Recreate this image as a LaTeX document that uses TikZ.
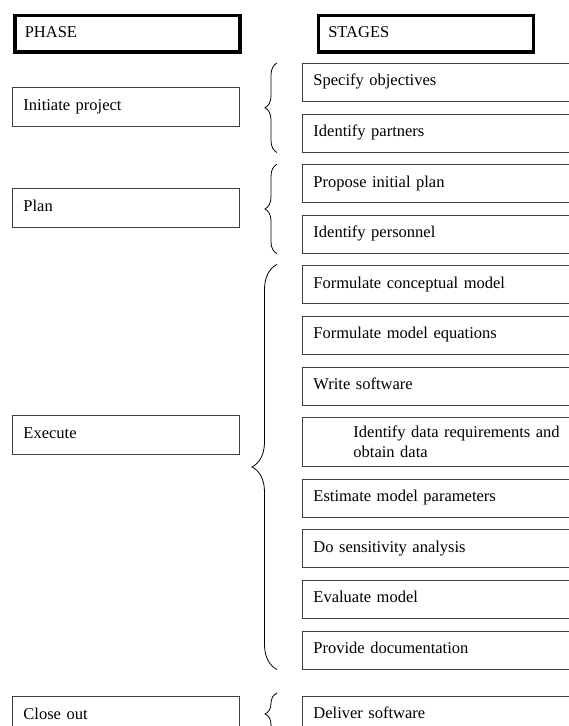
\documentclass[tikz,border=0pt]{standalone}
\usepackage{fontspec}
\setmainfont{Liberation Serif}
\usetikzlibrary{positioning,decorations.pathreplacing}
\tikzset{%
  % Specifications for style of nodes:
  base/.style = {
    rectangle,
    draw=black!75,
    line width=0.9pt,
    inner xsep=11pt,
    inner ysep=0pt,
    align=left,
    font=\fontsize{16.5}{20}\selectfont
  },
  header/.style = {base, draw=black, line width=3.5pt, inner xsep=10pt,
                   minimum height=36.5pt, text height=11pt, text depth=4pt},
  phase/.style = {base, text width=205pt, minimum height=39pt,
                  text height=11pt, text depth=4pt},
  stagebase/.style = {base, text width=268pt, minimum height=38pt},
  stage/.style = {stagebase, text height=11pt, text depth=4pt},
  curly/.style = {decorate, decoration={brace, amplitude=#1},
                  line width=0.8pt},
}

\begin{document}
\begin{tikzpicture}[
  x=1pt, y=-1pt,
  node distance=11.7pt,
  ]
  \useasboundingbox (0,0) rectangle (568,726);
  % headers
  \node (phase)  [header, text width=205pt, anchor=north west] at (13,13.5) {PHASE};
  \node (stages) [header, text width=195pt, anchor=north west] at (316.5,13.5) {STAGES};
  % phases
  \node (init)  [phase, anchor=north west] at (12,87)  {Initiate project};
  \node (plan)  [phase, anchor=north west] at (12,188) {Plan};
  \node (exec)  [phase, anchor=north west] at (12,415) {Execute};
  \node (close) [phase, anchor=north west] at (12,696) {Close out};
  % stages
  \node (spec)  [stage, anchor=north west] at (302,63) {Specify objectives};
  \node (partn) [stage, below=of spec]  {Identify partners};
  \node (prop)  [stage, below=of partn] {Propose initial plan};
  \node (pers)  [stage, below=of prop]  {Identify personnel};
  \node (concm) [stage, below=of pers]  {Formulate conceptual model};
  \node (equat) [stage, below=of concm] {Formulate model equations};
  \node (soft)  [stage, below=of equat] {Write software};
  \node (data)  [stagebase, minimum height=49pt, below=of soft]
  {\hspace*{40pt}Identify data requirements and\\\hspace*{40pt}obtain data};
  \node (param) [stage, below=of data]  {Estimate model parameters};
  \node (sens)  [stage, below=of param] {Do sensitivity analysis};
  \node (eval)  [stage, below=of sens]  {Evaluate model};
  \node (doc)   [stage, below=of eval]  {Provide documentation};
  \node (deliv) [stage, anchor=north west] at (302,696) {Deliver software};
  % braces
  \draw[curly=12pt] ([xshift=-25pt]partn.south west) -- ([xshift=-25pt]spec.north west);
  \draw[curly=12pt] ([xshift=-25pt]pers.south west) -- ([xshift=-25pt]prop.north west);
  \draw[curly=25pt] ([xshift=-25pt]doc.south west) -- ([xshift=-25pt,yshift=1pt]concm.north west);
  \draw[curly=12pt] ([xshift=-25pt]deliv.south west) -- ([xshift=-25pt,yshift=3pt]deliv.north west);
\end{tikzpicture}
\end{document}
